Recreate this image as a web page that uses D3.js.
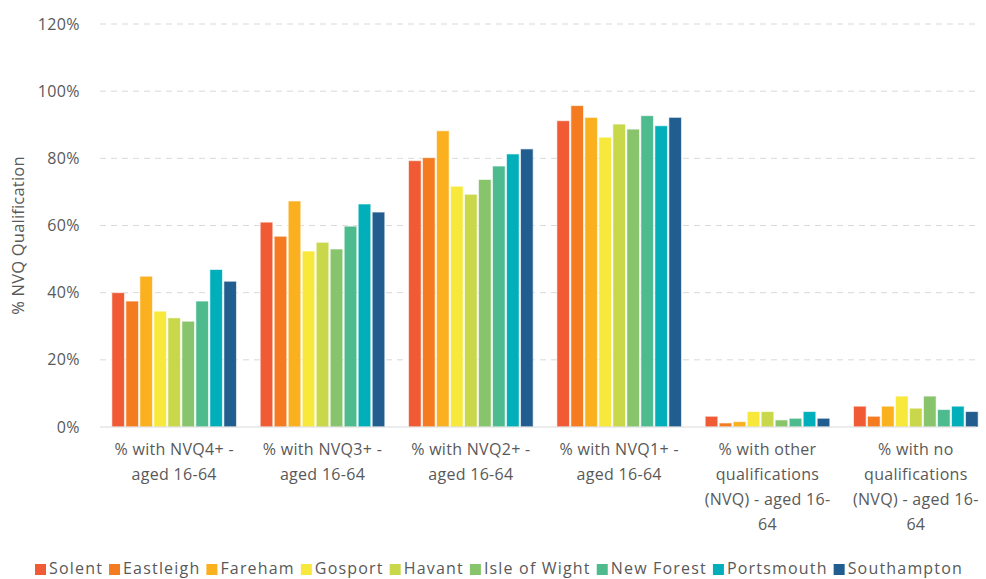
<!DOCTYPE html>
<html>
<head>
<meta charset="utf-8">
<script src="https://cdn.jsdelivr.net/npm/d3@7"></script>
<style>
  html, body { margin: 0; padding: 0; background: #fff; }
  svg { display: block; font-family: "Open Sans", "Liberation Sans", sans-serif; }
</style>
</head>
<body>
<svg id="chart" width="986" height="579"></svg>
<script>
// Qualification categories (x axis), one line of text per array entry
const categories = [
  ["% with NVQ4+ -", "aged 16-64"],
  ["% with NVQ3+ -", "aged 16-64"],
  ["% with NVQ2+ -", "aged 16-64"],
  ["% with NVQ1+ -", "aged 16-64"],
  ["% with other", "qualifications", "(NVQ) - aged 16-", "64"],
  ["% with no", "qualifications", "(NVQ) - aged 16-", "64"]
];

const areas = ["Solent", "Eastleigh", "Fareham", "Gosport", "Havant",
               "Isle of Wight", "New Forest", "Portsmouth", "Southampton"];

const colors = ["#F05A35", "#F47B20", "#FBB11F", "#F8E83C", "#C9D84A",
                "#88C46C", "#4DBB8E", "#00AFBA", "#215D8E"];

// Percent values per area, in category order
const solent      = [40.0, 61.0, 79.3, 91.2, 3.2, 6.2];
const eastleigh   = [37.5, 56.8, 80.2, 95.7, 1.2, 3.2];
const fareham     = [44.9, 67.3, 88.2, 92.2, 1.6, 6.2];
const gosport     = [34.5, 52.4, 71.7, 86.3, 4.6, 9.2];
const havant      = [32.5, 55.0, 69.3, 90.2, 4.6, 5.6];
const isleOfWight = [31.5, 53.0, 73.7, 88.7, 2.1, 9.2];
const newForest   = [37.5, 59.8, 77.7, 92.7, 2.6, 5.2];
const portsmouth  = [46.9, 66.4, 81.3, 89.7, 4.6, 6.2];
const southampton = [43.4, 64.0, 82.8, 92.2, 2.6, 4.6];

const yTicks = [0, 20, 40, 60, 80, 100, 120];
const yTitle = "% NVQ Qualification";

const seriesValues = [solent, eastleigh, fareham, gosport, havant,
                      isleOfWight, newForest, portsmouth, southampton];

const svg = d3.select("#chart");
const textColor = "#595959";

const plotLeft = 100, plotRight = 990, plotTop = 24, plotBottom = 427;

const x0 = d3.scaleBand()
  .domain(d3.range(categories.length))
  .range([plotLeft, plotRight])
  .paddingInner(0.16)
  .paddingOuter(0.08);

const x1 = d3.scaleBand()
  .domain(d3.range(areas.length))
  .range([0, x0.bandwidth()])
  .paddingInner(0.1);

const y = d3.scaleLinear().domain([0, 120]).range([plotBottom, plotTop]);

// Dashed horizontal gridlines
svg.append("g")
  .selectAll("line")
  .data(yTicks.filter(t => t > 0))
  .join("line")
  .attr("x1", plotLeft).attr("x2", 976)
  .attr("y1", d => y(d)).attr("y2", d => y(d))
  .attr("stroke", "#d9d9d9")
  .attr("stroke-width", 1)
  .attr("stroke-dasharray", "6,5");

// Y axis labels
const yAxis = d3.axisLeft(y).tickValues(yTicks).tickFormat(d => d + "%").tickSize(0).tickPadding(20);
const yg = svg.append("g").attr("transform", `translate(${plotLeft},0)`).call(yAxis);
yg.select(".domain").remove();
yg.selectAll("text")
  .attr("fill", textColor)
  .style("font-size", "16px")
  .style("letter-spacing", "0.4px")
  .style("font-family", "Open Sans, sans-serif");

// Y axis title
svg.append("text")
  .attr("transform", `translate(24,${(plotTop + plotBottom) / 2 + 10}) rotate(-90)`)
  .attr("text-anchor", "middle")
  .attr("fill", textColor)
  .style("font-size", "16.5px")
  .style("letter-spacing", "0.2px")
  .text(yTitle);

// Bars
const groups = svg.append("g")
  .selectAll("g")
  .data(categories.map((c, i) => i))
  .join("g")
  .attr("transform", i => `translate(${x0(i)},0)`);

groups.selectAll("rect")
  .data(ci => seriesValues.map((vals, si) => ({ si, v: vals[ci] })))
  .join("rect")
  .attr("x", d => x1(d.si))
  .attr("width", x1.bandwidth())
  .attr("y", d => y(d.v))
  .attr("height", d => y(0) - y(d.v))
  .attr("fill", d => colors[d.si])
  .attr("stroke", "#ffffff")
  .attr("stroke-opacity", 0.6)
  .attr("stroke-width", 1);

// Baseline
svg.append("line")
  .attr("x1", plotLeft).attr("x2", 976)
  .attr("y1", y(0)).attr("y2", y(0))
  .attr("stroke", "#d9d9d9")
  .attr("stroke-width", 1.2);

// Category labels
const catG = svg.append("g");
categories.forEach((lines, i) => {
  const cx = x0(i) + x0.bandwidth() / 2;
  const t = catG.append("text")
    .attr("x", cx)
    .attr("y", 455)
    .attr("text-anchor", "middle")
    .attr("fill", textColor)
    .style("font-size", "16px")
    .style("letter-spacing", "0.3px");
  lines.forEach((ln, k) => {
    t.append("tspan")
      .attr("x", cx)
      .attr("dy", k === 0 ? 0 : 25)
      .text(ln);
  });
});

// Legend: laid out left to right, spread between legendStart and legendEnd
const legendStart = 35, legendEnd = 963;
const legend = svg.append("g").attr("transform", "translate(0,574)");
const legendItems = areas.map((name, i) => {
  const g = legend.append("g");
  g.append("rect").attr("x", 0).attr("y", -10).attr("width", 11).attr("height", 11).attr("fill", colors[i]);
  const t = g.append("text").attr("x", 14).attr("y", 0)
    .attr("fill", textColor).style("font-size", "16px").text(name);
  return { g, t, name };
});
const gapAfter = 6;
let baseW = 0, nChars = 0;
legendItems.forEach(it => {
  baseW += 14 + it.t.node().getComputedTextLength();
  nChars += it.name.length;
});
baseW += gapAfter * (legendItems.length - 1);
const spacing = Math.max(0, (legendEnd - legendStart - baseW) / nChars);
let lx = legendStart;
legendItems.forEach(it => {
  it.t.style("letter-spacing", spacing + "px");
  it.g.attr("transform", `translate(${lx},0)`);
  lx += 14 + it.t.node().getComputedTextLength() + gapAfter;
});
</script>
</body>
</html>
